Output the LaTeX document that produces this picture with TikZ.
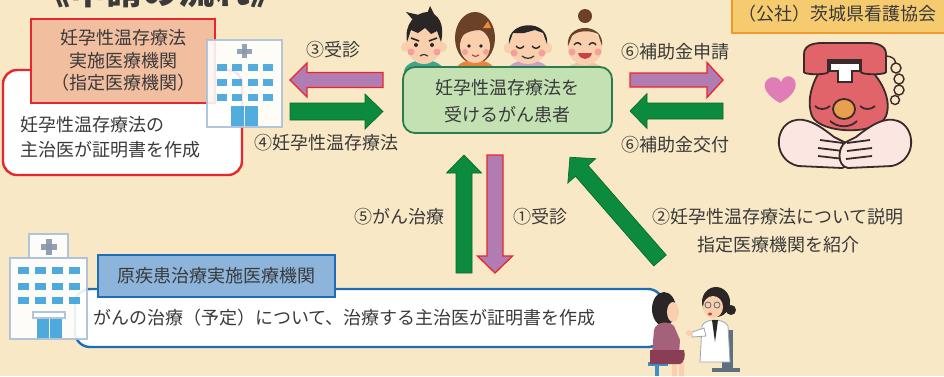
\documentclass[tikz,border=0pt]{standalone}
\usepackage{fontspec}
\setmainfont{Noto Sans CJK JP}
\usetikzlibrary{calc}

\definecolor{bg}{HTML}{F8E8C5}
\definecolor{ink}{HTML}{3A3A3A}
\definecolor{redline}{HTML}{E8262D}
\definecolor{salmon}{HTML}{F2BEA0}
\definecolor{mint}{HTML}{C4E1B3}
\definecolor{mintline}{HTML}{2F7A4C}
\definecolor{sky}{HTML}{8DB5DC}
\definecolor{skyline}{HTML}{1E6DB6}
\definecolor{goldfill}{HTML}{F6CB70}
\definecolor{goldline}{HTML}{F1992D}
\definecolor{apurple}{HTML}{B07CB2}
\definecolor{agreen}{HTML}{0C8A3D}
\definecolor{agreenline}{HTML}{0A6A30}
\definecolor{bldline}{HTML}{A9C0D8}
\definecolor{window}{HTML}{3BA2DA}
\definecolor{crossc}{HTML}{8797AD}
\definecolor{skin}{HTML}{F9CFAE}
\definecolor{cheek}{HTML}{F3A09A}
\definecolor{hairblack}{HTML}{2A2626}
\definecolor{hairbrown}{HTML}{6B4128}
\definecolor{phonered}{HTML}{E0646A}
\definecolor{outline}{HTML}{3A2A2A}
\definecolor{nose}{HTML}{E9A04E}
\definecolor{handc}{HTML}{FBE6E2}
\definecolor{heart}{HTML}{E07DB6}
\definecolor{mauve}{HTML}{A5607A}
\definecolor{shirtteal}{HTML}{3FA58E}
\definecolor{shirtorange}{HTML}{E8833A}
\definecolor{clipor}{HTML}{F08A2E}
\definecolor{lipred}{HTML}{B04A4A}
\definecolor{shirtlilac}{HTML}{C9A0C8}
\definecolor{shirtbeige}{HTML}{E6C7A2}
\definecolor{mouthred}{HTML}{C8404A}
\definecolor{skirt}{HTML}{8A3E55}
\definecolor{stool}{HTML}{3C8FC8}
\definecolor{chair}{HTML}{5E7080}
\definecolor{specs}{HTML}{5A6A7A}
\definecolor{coatline}{HTML}{9AA6B2}

% block arrow: style, tail point, angle, length, half shaft, half head, head length
\newcommand{\blockarrow}[7]{%
  \begin{scope}[shift={#2},rotate=#3]
    \path[#1] (0,-#5) -- ({#4-#7},-#5) -- ({#4-#7},-#6) -- (#4,0)
      -- ({#4-#7},#6) -- ({#4-#7},#5) -- (0,#5) -- cycle;
  \end{scope}}

\tikzset{
  txt/.style={text=ink, font=\fontsize{18}{24}\selectfont, inner sep=0pt},
  purplearrow/.style={fill=apurple, draw=redline, line width=1.3pt, line join=miter},
  greenarrow/.style={fill=agreen, draw=agreenline, line width=0.7pt, line join=miter},
  bldg/.style={draw=bldline, fill=white, line width=1.6pt},
  win/.style={fill=window},
}

\begin{document}
\begin{tikzpicture}[x=1pt,y=-1pt]
\useasboundingbox (0,0) rectangle (944,376);
\clip (0,0) rectangle (944,376);
\fill[bg] (0,0) rectangle (944,376);

% heading, cut by the top edge
\node[text=ink, font=\fontsize{36}{40}\selectfont\bfseries, inner sep=0pt, anchor=base] (title) at (160,4) {《申請の流れ》};

% ---------- designated institution (left) ----------
\draw[redline, fill=white, line width=2.4pt, rounded corners=14pt] (3,70) rectangle (242,175);
\node[txt, anchor=west, align=left, font=\fontsize{18}{25}\selectfont] (docnote) at (20,137.5) {妊孕性温存療法の\\主治医が証明書を作成};
\node[draw=redline, fill=salmon, line width=2pt, minimum width=184pt, minimum height=84pt, inner sep=0pt] (instbox) at (123,61) {};
\node[txt, align=center, font=\fontsize{18}{22.5}\selectfont] (instlabel) at (123,60.5) {妊孕性温存療法\\実施医療機関\\（指定医療機関）};

% hospital icon 1
\begin{scope}[opacity=0.88]
\draw[bldg] (207,40) rectangle (282,127);
\fill[crossc] (237,48.5) rectangle (252,53.5);
\fill[crossc] (242,44) rectangle (247,58);
\foreach \yy in {67,82,97}{
  \foreach \xx in {222,237,253,268}{
    \fill[win] (\xx-5,\yy-3.5) rectangle (\xx+5,\yy+3.5);
  }}
\fill[win] (231,106) rectangle (258,126);
\draw[white, line width=1pt] (244.5,106) -- (244.5,126);
\end{scope}

% ---------- arrows between institution and patients ----------
\node[txt] (l3) at (333,50) {③受診};
\blockarrow{purplearrow}{(383,80)}{180}{93}{7.5}{17}{17}
\blockarrow{greenarrow}{(290,111.5)}{0}{93}{8.5}{17.5}{18}
\node[txt] (l4) at (326,143) {④妊孕性温存療法};

% ---------- patients ----------
% face 1
\fill[shirtteal] (424,72) ellipse (20 and 12);
\fill[skin] (406,47) circle (5) (442,47) circle (5);
\fill[skin] (424,45) ellipse (17 and 19);
\fill[hairblack] (407,42) .. controls (404,24) and (415,13) .. (427,12) .. controls (439,13) and (445,25) .. (441,42)
  -- (437,31) -- (431,34) -- (425,28) -- (418,33) -- (411,30) -- cycle;
\fill[hairblack] (413,20) -- (406,12) -- (419,15) -- cycle;
\fill[hairblack] (427,14) -- (430,6) -- (435,16) -- cycle;
\fill[hairblack] (416,45) circle (2) (432,45) circle (2);
\draw[hairblack, line width=1.6pt] (411,38) -- (419,41) (437,38) -- (429,41);
\draw[ink, line width=1.2pt] (420,56) .. controls (423,54) and (426,54) .. (428,56);
\fill[cheek] (411,52) circle (3.5) (437,52) circle (3.5);
% face 2
\fill[hairbrown] (475,38) ellipse (20 and 26);
\fill[shirtorange] (475,70) ellipse (19 and 10);
\fill[skin] (475,46) ellipse (15 and 17);
\fill[hairbrown] (459,44) .. controls (457,20) and (493,20) .. (491,44) -- (489,33)
  .. controls (481,28) and (469,30) .. (462,36) -- cycle;
\fill[clipor] (483,28) -- (488,21) -- (491,28) -- cycle;
\fill[hairblack] (469,46) circle (1.8) (481,46) circle (1.8);
\draw[lipred, line width=1.2pt] (472,55) .. controls (474,57) and (477,57) .. (479,55);
\fill[cheek] (465,52) circle (3) (486,52) circle (3);
% face 3
\fill[shirtlilac] (528,72) ellipse (21 and 12);
\fill[skin] (509,48) circle (5.5) (547,48) circle (5.5);
\fill[skin] (528,46) ellipse (19 and 18);
\fill[hairblack] (509,44) .. controls (506,20) and (550,18) .. (547,44) -- (543,33) -- (535,30)
  -- (524,33) -- (513,33) -- cycle;
\draw[hairblack, line width=1.4pt] (516,46) .. controls (518,49) and (522,49) .. (524,46)
  (532,46) .. controls (534,49) and (538,49) .. (540,46);
\draw[ink, line width=1.3pt] (522,56) .. controls (525,59) and (531,59) .. (534,56);
\fill[cheek] (514,53) circle (3.5) (542,53) circle (3.5);
% face 4
\fill[shirtbeige] (585,73) ellipse (20 and 11);
\fill[hairbrown] (585,16) circle (7);
\fill[skin] (585,48) ellipse (17 and 17);
\fill[hairbrown] (568,46) .. controls (565,22) and (605,22) .. (602,46) -- (598,34)
  .. controls (590,30) and (578,30) .. (572,36) -- cycle;
\draw[hairblack, line width=1.4pt] (574,45) .. controls (576,42) and (579,42) .. (581,45)
  (589,45) .. controls (591,42) and (594,42) .. (596,45);
\fill[mouthred] (578,53) .. controls (580,61) and (590,61) .. (592,53) -- cycle;
\fill[cheek] (572,52) circle (3.5) (598,52) circle (3.5);

% patients box
\node[draw=mintline, fill=mint, line width=1.8pt, rounded corners=12pt, minimum width=209pt, minimum height=66pt] (patients) at (507.5,100) {};
\node[txt, align=center, font=\fontsize{18}{27}\selectfont] (patientlabel) at (507.5,101.5) {妊孕性温存療法を\\受けるがん患者};

% ---------- nursing association (right) ----------
\node[txt] (l6a) at (675,52) {⑥補助金申請};
\blockarrow{purplearrow}{(630,80)}{0}{93}{7}{17.5}{16}
\blockarrow{greenarrow}{(723,111)}{180}{93}{8}{17.5}{17}
\node[txt] (l6b) at (675,145) {⑥補助金交付};

\draw[goldline, fill=goldfill, line width=2.5pt] (732,-5) rectangle (952,33);
\node[txt] (assoc) at (837,14) {（公社）茨城県看護協会};

% heart
\fill[heart] (780,103) .. controls (767,96) and (761,86) .. (767,80)
  .. controls (772,75) and (779,77) .. (781,82) .. controls (783,76) and (790,74) .. (794,79)
  .. controls (799,87) and (792,97) .. (780,103) -- cycle;
% telephone character
\begin{scope}[line width=1.8pt, draw=outline]
\draw[outline, line width=1.4pt] (884,56) .. controls (894,56) and (896,60) .. (895,64);
\draw[outline, fill=bg, line width=1.4pt] (896,68) circle (5) (899,79) circle (5) (899,90) circle (5) (895,100) circle (4.5);
% body
\filldraw[fill=phonered] (826,62) .. controls (812,80) and (806,100) .. (812,116)
  .. controls (820,134) and (878,136) .. (886,116) .. controls (892,100) and (882,78) .. (862,62) -- cycle;
% handset
\filldraw[fill=phonered] (804,72) -- (804,54) .. controls (804,46) and (812,43) .. (822,43) -- (868,43)
  .. controls (878,43) and (886,46) .. (886,54) -- (886,72) .. controls (886,75) and (861,75) .. (861,72)
  -- (861,60) -- (828,60) -- (828,72) .. controls (828,75) and (804,75) .. (804,72) -- cycle;
% cradle
\filldraw[fill=white] (830,63) -- (860,63) -- (860,71) -- (852,71) -- (852,82) -- (838,82) -- (838,71) -- (830,71) -- cycle;
\draw (815,106) .. controls (818,110) and (826,110) .. (830,106);
\draw (860,106) .. controls (864,110) and (871,110) .. (875,106);
\filldraw[fill=nose] (844,109) ellipse (11 and 10);
\draw (830,121) .. controls (838,128) and (850,128) .. (857,121);
% hands
\filldraw[fill=handc] (792,121) .. controls (774,128) and (773,160) .. (798,166) -- (842,168)
  .. controls (854,166) and (852,146) .. (844,142) -- (834,137) .. controls (820,126) and (806,116) .. (792,121) -- cycle;
\draw (820,140) -- (843,143) (818,148) -- (843,151) (818,156) -- (844,159);
\begin{scope}[shift={(1690,0)}, xscale=-1]
\filldraw[fill=handc] (792,121) .. controls (774,128) and (773,160) .. (798,166) -- (842,168)
  .. controls (854,166) and (852,146) .. (844,142) -- (834,137) .. controls (820,126) and (806,116) .. (792,121) -- cycle;
\draw (820,140) -- (843,143) (818,148) -- (843,151) (818,156) -- (844,159);
\end{scope}
\end{scope}

% ---------- cancer treatment institution (bottom) ----------
\node[txt, anchor=east] (l5) at (445,217) {⑤がん治療};
\blockarrow{greenarrow}{(464,273)}{90}{118}{8}{17.5}{18}
\blockarrow{purplearrow}{(495,155)}{270}{118}{8}{17.5}{17}
\node[txt] (l1) at (540,217) {①受診};
\blockarrow{greenarrow}{(660,260.5)}{131.1}{137}{8.3}{18.5}{18}
\node[txt] (l2a) at (778,217) {②妊孕性温存療法について説明};
\node[txt] (l2b) at (778,245) {指定医療機関を紹介};

\draw[skyline, fill=white, line width=2.4pt, rounded corners=15pt] (75,289) rectangle (663,347);
\node[draw=skyline, fill=sky, line width=2.4pt, minimum width=237pt, minimum height=42pt, inner sep=0pt] (oncbox) at (216.5,276) {};
\node[txt] (onclabel) at (216.5,276) {原疾患治療実施医療機関};
\node[txt, anchor=west] (oncnote) at (93,318) {がんの治療（予定）について、治療する主治医が証明書を作成};

% hospital icon 2
\begin{scope}[opacity=0.9]
\draw[bldg] (29,234) rectangle (68,258);
\fill[crossc] (41,244) rectangle (57,249.5);
\fill[crossc] (46.3,238.5) rectangle (51.7,255);
\draw[bldg] (10,258) rectangle (87,339);
\foreach \yy in {270,286,300}{
  \foreach \xx in {23,40,57,74}{
    \fill[win] (\xx-5.5,\yy-3.5) rectangle (\xx+5.5,\yy+3.5);
  }}
\draw[bldline, fill=white, line width=1.4pt] (33,312) rectangle (65,318);
\fill[win] (37,319) rectangle (62,338);
\draw[white, line width=1pt] (49.5,319) -- (49.5,338);
\end{scope}

% ---------- consultation scene ----------
% patient
\fill[stool] (648,362) rectangle (668,366);
\fill[stool] (655,366) rectangle (659,376);
\fill[skin] (672,362) rectangle (677,376) (679,362) rectangle (684,376);
\fill[hairblack] (664,309) ellipse (12 and 17);
\fill[skin] (673,312) ellipse (6 and 10);
\fill[mauve] (652,354) -- (654,330) .. controls (656,322) and (668,320) .. (674,326) -- (680,340) -- (679,354) -- cycle;
\fill[skirt] (650,350) -- (684,350) .. controls (686,356) and (684,363) .. (680,364) -- (650,364) -- cycle;
% doctor
\fill[chair] (722,330) rectangle (733,368);
\fill[chair] (712,368) rectangle (740,372);
\fill[hairblack] (716,302) ellipse (14 and 15) (731,310) circle (5);
\fill[skin] (713,307) ellipse (10 and 11);
\draw[specs, line width=0.8pt] (708,305) circle (3) (717,305) circle (3);
\fill[mouthred] (710,314) ellipse (2 and 1.5);
\filldraw[fill=white, draw=coatline, line width=0.8pt] (700,362) -- (702,326) .. controls (705,318) and (724,318) .. (728,326) -- (730,362) -- cycle;
\fill[hairblack] (712,320) -- (718,320) -- (715,342) -- cycle;
\filldraw[fill=white, draw=coatline, line width=0.8pt] (704,328) -- (692,332) -- (692,337) -- (706,336) -- cycle;
\fill[skin] (689,333) circle (3);
\end{tikzpicture}
\end{document}
